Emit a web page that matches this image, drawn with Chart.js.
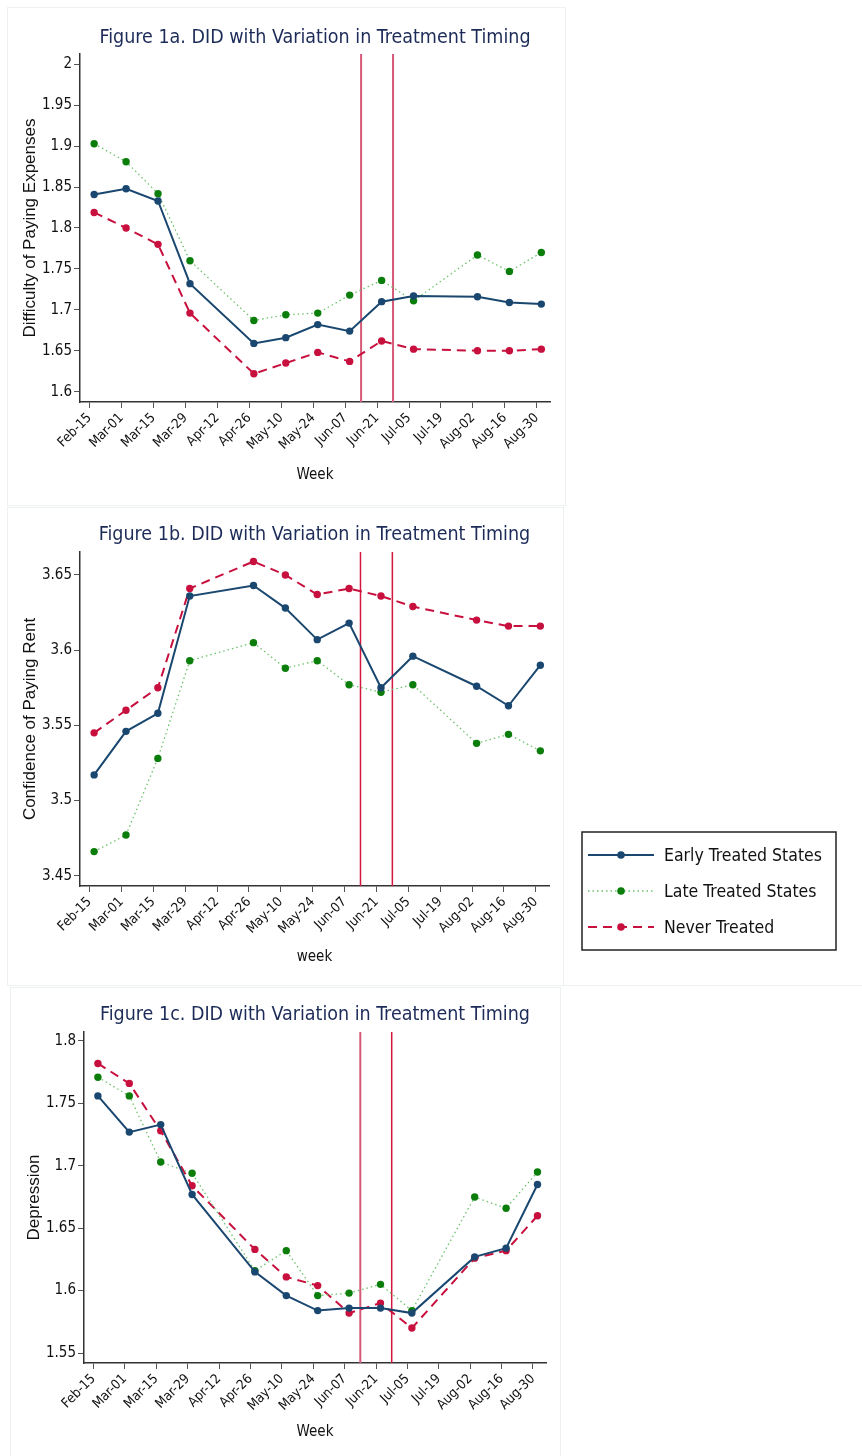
<!DOCTYPE html>
<html>
<head>
<meta charset="utf-8">
<script src="https://cdn.jsdelivr.net/npm/chart.js@4.4.1/dist/chart.umd.min.js"></script>
<style>
  body { margin: 0; background: #fff; }
  #page { position: relative; width: 862px; height: 1456px; overflow: hidden; }
  .frame { position: absolute; border: 1px solid #edf1f1; box-sizing: border-box; }
  canvas { position: absolute; }
</style>
</head>
<body>
<div id="page">
  <div class="frame" style="left:7px;top:7px;width:559px;height:499px"></div>
  <div class="frame" style="left:7px;top:507px;width:557px;height:479px"></div>
  <div class="frame" style="left:563px;top:985px;width:299px;height:1px;border-width:1px 0 0 0"></div>
  <div class="frame" style="left:10px;top:987px;width:551px;height:470px"></div>
  <canvas id="chartA" width="556" height="496" style="left:8px;top:8px"></canvas>
  <canvas id="chartB" width="854" height="477" style="left:8px;top:508px"></canvas>
  <canvas id="chartC" width="550" height="469" style="left:10px;top:987px"></canvas>
</div>
<script>
// x axis: days after Feb-15, tick every two weeks
const weekTicks = ['Feb-15', 'Mar-01', 'Mar-15', 'Mar-29', 'Apr-12', 'Apr-26', 'May-10', 'May-24',
  'Jun-07', 'Jun-21', 'Jul-05', 'Jul-19', 'Aug-02', 'Aug-16', 'Aug-30'];
// survey weeks (days after Feb-15), no survey around Apr-12 and Jul-19
const surveyDays = [2, 16, 30, 44, 72, 86, 100, 114, 128, 142, 170, 184, 198];
// treatment dates (vertical lines)
const treatDays = [119, 133];
const seriesNames = ['Early Treated States', 'Late Treated States', 'Never Treated'];

// Figure 1a - difficulty of paying expenses
const expEarly = [1.841, 1.848, 1.833, 1.732, 1.659, 1.666, 1.682, 1.674, 1.710, 1.717, 1.716, 1.709, 1.707];
const expLate  = [1.903, 1.881, 1.842, 1.760, 1.687, 1.694, 1.696, 1.718, 1.736, 1.711, 1.767, 1.747, 1.770];
const expNever = [1.819, 1.800, 1.780, 1.696, 1.622, 1.635, 1.648, 1.637, 1.662, 1.652, 1.650, 1.650, 1.652];

// Figure 1b - confidence of paying rent
const rentEarly = [3.517, 3.546, 3.558, 3.636, 3.643, 3.628, 3.607, 3.618, 3.575, 3.596, 3.576, 3.563, 3.590];
const rentLate  = [3.466, 3.477, 3.528, 3.593, 3.605, 3.588, 3.593, 3.577, 3.572, 3.577, 3.538, 3.544, 3.533];
const rentNever = [3.545, 3.560, 3.575, 3.641, 3.659, 3.650, 3.637, 3.641, 3.636, 3.629, 3.620, 3.616, 3.616];

// Figure 1c - depression
const depEarly = [1.756, 1.727, 1.733, 1.677, 1.615, 1.596, 1.584, 1.586, 1.586, 1.582, 1.627, 1.634, 1.685];
const depLate  = [1.771, 1.756, 1.703, 1.694, 1.616, 1.632, 1.596, 1.598, 1.605, 1.584, 1.675, 1.666, 1.695];
const depNever = [1.782, 1.766, 1.728, 1.684, 1.633, 1.611, 1.604, 1.582, 1.590, 1.570, 1.626, 1.632, 1.660];

const NARROW = "'Liberation Sans Narrow', 'DejaVu Sans Condensed', 'Arial Narrow', sans-serif";
const PLAIN = "'Liberation Sans', Arial, sans-serif";
const PINK = '#d55a79';
const CRIMSON = '#d3163f';
const TITLE_SIZE = 19.5;
const XTITLE_SIZE = 15;
const YTITLE_SIZE = 17;

const treatLines = {
  id: 'treatLines',
  beforeDatasetsDraw(chart, args, opts) {
    const { ctx, chartArea, scales: { x } } = chart;
    treatDays.forEach((d, i) => {
      const px = x.getPixelForValue(d);
      ctx.save();
      ctx.strokeStyle = opts.colors[i];
      ctx.lineWidth = opts.widths[i];
      ctx.beginPath();
      ctx.moveTo(px, chartArea.top);
      ctx.lineTo(px, chartArea.bottom);
      ctx.stroke();
      ctx.restore();
    });
  }
};

// boxed legend drawn to the right of figure 1b
const boxLegend = {
  id: 'boxLegend',
  afterDraw(chart, args, o) {
    const ctx = chart.ctx;
    ctx.save();
    ctx.strokeStyle = '#222';
    ctx.lineWidth = 1.5;
    ctx.strokeRect(o.left, o.top, o.width, o.height);
    ctx.font = '17.5px ' + NARROW;
    ctx.textBaseline = 'middle';
    chart.data.datasets.forEach((ds, i) => {
      const y = o.top + o.firstRow + i * o.rowGap;
      ctx.strokeStyle = ds.borderColor;
      ctx.lineWidth = ds.borderWidth;
      ctx.setLineDash(ds.borderDash || []);
      ctx.beginPath();
      ctx.moveTo(o.left + 6, y);
      ctx.lineTo(o.left + 72, y);
      ctx.stroke();
      ctx.setLineDash([]);
      ctx.fillStyle = ds.pointBackgroundColor;
      ctx.beginPath();
      ctx.arc(o.left + 39, y, 3.8, 0, Math.PI * 2);
      ctx.fill();
      ctx.fillStyle = '#111';
      ctx.fillText(ds.label, o.left + 82, y + 1);
    });
    ctx.restore();
  }
};

function pts(vals) {
  return surveyDays.map((d, i) => ({ x: d, y: vals[i] }));
}

function makeChart(id, p) {
  const ctx = document.getElementById(id).getContext('2d');
  const h = ctx.canvas.height;
  return new Chart(ctx, {
    type: 'line',
    data: {
      datasets: [{
        label: seriesNames[0],
        data: pts(p.early),
        borderColor: '#1a476f',
        borderWidth: 2,
        pointBackgroundColor: '#1a476f',
        pointBorderWidth: 0,
        pointRadius: 3.7
      }, {
        label: seriesNames[1],
        data: pts(p.late),
        borderColor: '#6cc26c',
        borderWidth: 1.3,
        borderDash: [1.5, 3],
        pointBackgroundColor: '#0b7d0b',
        pointBorderWidth: 0,
        pointRadius: 3.7
      }, {
        label: seriesNames[2],
        data: pts(p.never),
        borderColor: '#c8103e',
        borderWidth: 2,
        borderDash: [9, 6],
        pointBackgroundColor: '#c8103e',
        pointBorderWidth: 0,
        pointRadius: 3.7
      }]
    },
    options: {
      responsive: false,
      animation: false,
      devicePixelRatio: 1,
      layout: { padding: { left: 0, right: p.padRight, top: 0, bottom: 0 } },
      plugins: {
        legend: { display: false },
        tooltip: { enabled: false },
        title: {
          display: true,
          text: p.title,
          fullSize: false,
          color: '#1c2b58',
          font: { family: NARROW, size: TITLE_SIZE, weight: 'normal' },
          padding: {
            top: p.titleY - TITLE_SIZE * 0.6,
            bottom: p.plotTop - p.titleY - TITLE_SIZE * 0.6
          }
        },
        treatLines: { colors: p.lineColors, widths: p.lineWidths },
        boxLegend: p.legend || {}
      },
      scales: {
        x: {
          type: 'linear',
          min: -4.2,
          max: 201.8,
          afterFit: s => { s.height = h - p.plotBottom; },
          border: { display: true, color: '#333', width: 1.5 },
          grid: { display: true, drawOnChartArea: false, drawTicks: true, tickLength: 6, color: '#555' },
          ticks: {
            stepSize: 14,
            includeBounds: false,
            autoSkip: false,
            minRotation: 45,
            maxRotation: 45,
            padding: 2,
            color: '#111',
            font: { family: NARROW, size: 13.5 },
            callback: v => weekTicks[Math.round(v / 14)]
          },
          title: {
            display: true,
            text: p.xTitle,
            color: '#111',
            font: { family: NARROW, size: XTITLE_SIZE },
            padding: { top: 0, bottom: h - p.xTitleY - XTITLE_SIZE * 0.6 }
          }
        },
        y: {
          min: p.yMin,
          max: p.yMax,
          afterFit: s => { s.width = p.plotLeft; },
          border: { display: true, color: '#333', width: 1.5 },
          grid: { display: true, drawOnChartArea: false, drawTicks: true, tickLength: 6, color: '#555' },
          ticks: {
            stepSize: 0.05,
            includeBounds: false,
            padding: 2,
            color: '#111',
            font: { family: NARROW, size: 15 },
            callback: v => String(Math.round(v * 100) / 100)
          },
          title: {
            display: true,
            text: p.yTitle,
            color: '#111',
            font: { family: PLAIN, size: YTITLE_SIZE },
            padding: { top: p.yTitleX - YTITLE_SIZE * 0.6, bottom: 0 }
          }
        }
      }
    },
    plugins: p.legend ? [treatLines, boxLegend] : [treatLines]
  });
}

makeChart('chartA', {
  title: 'Figure 1a. DID with Variation in Treatment Timing',
  yTitle: 'Difficulty of Paying Expenses',
  xTitle: 'Week',
  early: expEarly, late: expLate, never: expNever,
  yMin: 1.5874, yMax: 2.0126,
  plotLeft: 72, padRight: 14, plotTop: 46, plotBottom: 394,
  titleY: 30, xTitleY: 467, yTitleX: 22,
  lineColors: [PINK, PINK], lineWidths: [2, 2]
});

makeChart('chartB', {
  title: 'Figure 1b. DID with Variation in Treatment Timing',
  yTitle: 'Confidence of Paying Rent',
  xTitle: 'week',
  early: rentEarly, late: rentLate, never: rentNever,
  yMin: 3.4431, yMax: 3.6653,
  plotLeft: 72, padRight: 313, plotTop: 44, plotBottom: 378,
  titleY: 27, xTitleY: 449, yTitleX: 22.5,
  lineColors: [CRIMSON, CRIMSON], lineWidths: [1.5, 1.5],
  legend: { left: 574, top: 324, width: 254, height: 118, firstRow: 23, rowGap: 36 }
});

makeChart('chartC', {
  title: 'Figure 1c. DID with Variation in Treatment Timing',
  yTitle: 'Depression',
  xTitle: 'Week',
  early: depEarly, late: depLate, never: depNever,
  yMin: 1.542, yMax: 1.8072,
  plotLeft: 74, padRight: 14, plotTop: 45, plotBottom: 376,
  titleY: 28, xTitleY: 445, yTitleX: 24.5,
  lineColors: [PINK, CRIMSON], lineWidths: [2, 1.5]
});
</script>
</body>
</html>
